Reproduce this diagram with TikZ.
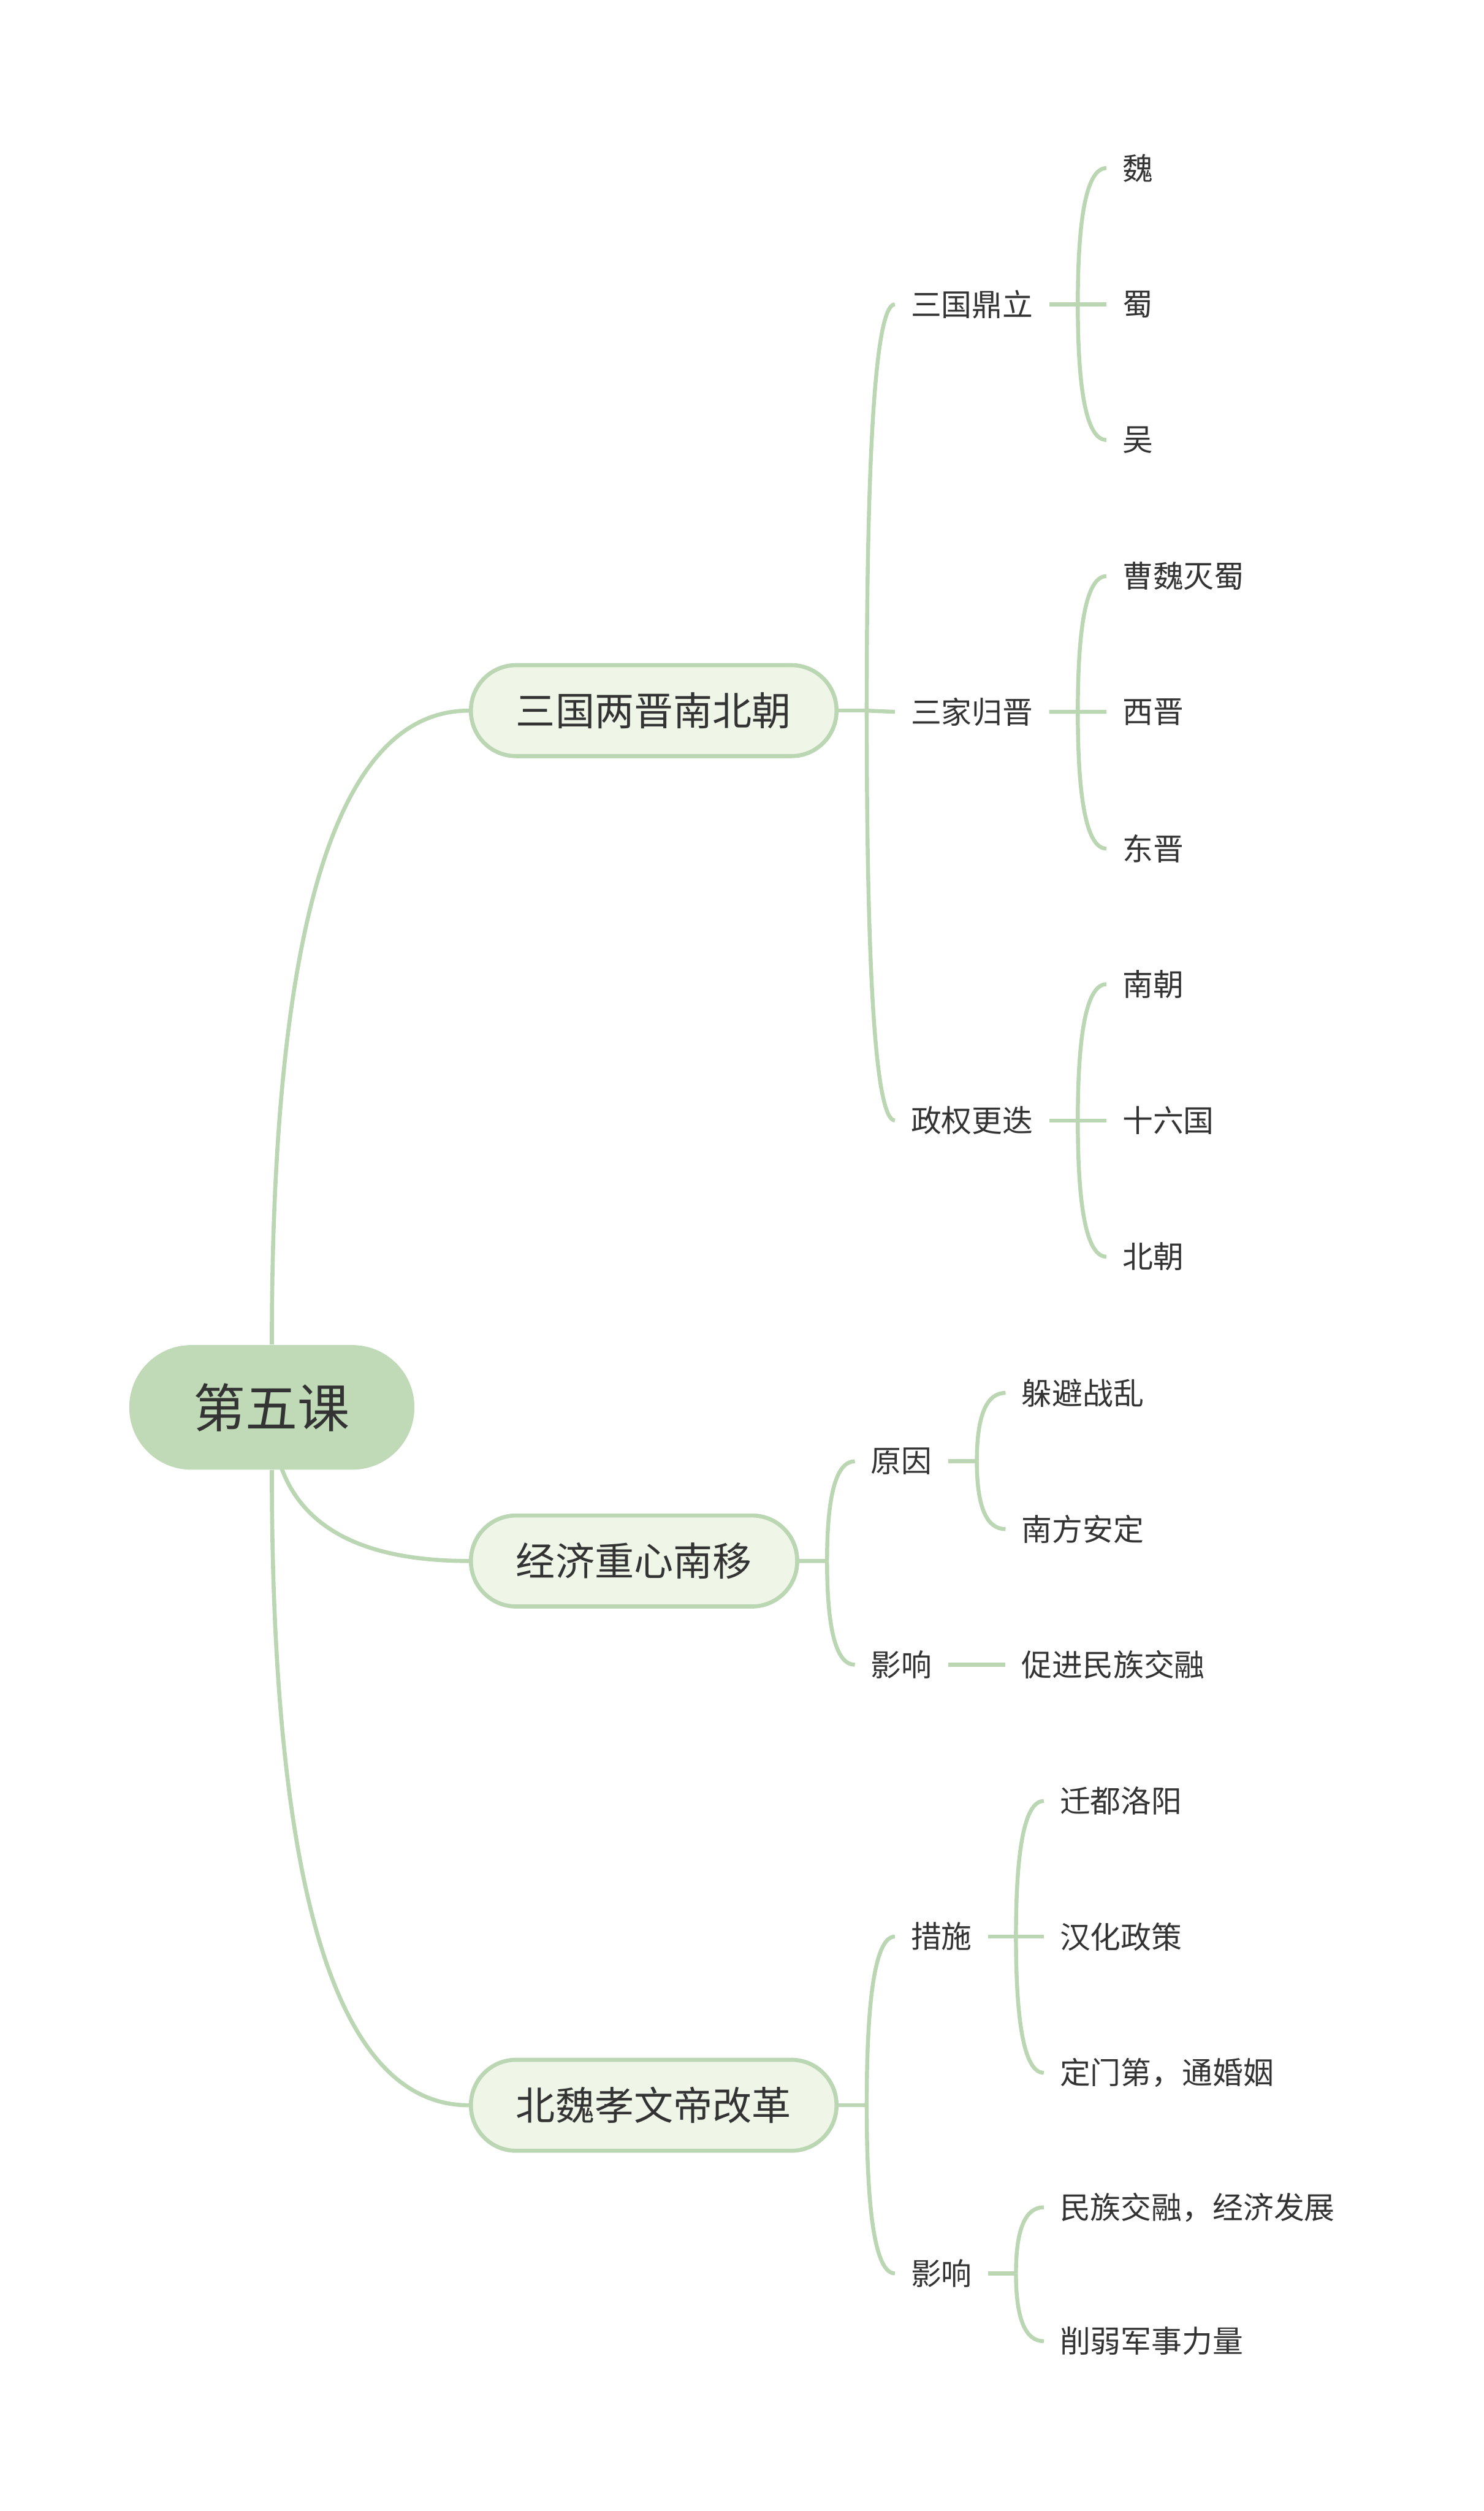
\documentclass[tikz,border=0pt]{standalone}
\usepackage{fontspec}
\setmainfont{Noto Sans CJK SC}
\usepackage{xcolor}
\usetikzlibrary{calc,backgrounds}
\definecolor{leafgreen}{HTML}{BAD6B2}
\definecolor{rootfill}{HTML}{C0DAB8}
\definecolor{boxfill}{HTML}{EFF6E8}
\definecolor{inkgray}{HTML}{333333}
\newcommand{\curvelink}[3][sublink]{\draw[#1] (#2) .. controls ($(#2)!0.667!(#2 |- #3)$) and ($(#3)!0.667!(#2 |- #3)$) .. (#3);}

\begin{document}
\begin{tikzpicture}[every node/.style={text=inkgray,font=\fontsize{15}{18}\selectfont},rootbox/.style={fill=rootfill,rounded corners=1.07cm,minimum height=2.15cm,inner xsep=1.11cm,font=\fontsize{25.6}{30}\selectfont},topicbox/.style={draw=leafgreen,fill=boxfill,line width=0.07cm,rounded corners=0.78cm,minimum height=1.57cm,inner xsep=0.78cm,anchor=west,font=\fontsize{19.3}{23}\selectfont},itemtext/.style={anchor=west,inner xsep=0.27cm,inner ysep=0.1cm},mainlink/.style={draw=leafgreen,line width=0.07cm},sublink/.style={draw=leafgreen,line width=0.068cm}]
\useasboundingbox (0,0) rectangle (25.6,-43.32);
\node[rootbox] (root) at (4.69,-24.28) {第五课};
\node[topicbox] (t1) at (8.09,-12.26) {三国两晋南北朝};
\node[topicbox] (t2) at (8.09,-26.93) {经济重心南移};
\node[topicbox] (t3) at (8.09,-36.32) {北魏孝文帝改革};
\begin{scope}[on background layer]
\curvelink[mainlink]{root.north}{t1.west}
\curvelink[mainlink]{root.center}{t2.west}
\curvelink[mainlink]{root.south}{t3.west}
\end{scope}
\node[itemtext] (s1) at (15.44,-5.25) {三国鼎立};
\node[itemtext] (s2) at (15.44,-12.28) {三家归晋};
\node[itemtext] (s3) at (15.44,-19.33) {政权更迭};
\coordinate (j1) at ($(t1.east)!0.5!(s1.west |- t1.east)$);
\draw[sublink] (t1.east) -- (j1);
\curvelink{j1}{s1.west}
\draw[sublink] (j1) -- (s2.west);
\curvelink{j1}{s3.west}
\node[itemtext] (s1a) at (19.09,-2.90) {魏};
\node[itemtext] (s1b) at (19.09,-5.25) {蜀};
\node[itemtext] (s1c) at (19.09,-7.59) {吴};
\coordinate (j11) at ($(s1.east)!0.5!(s1a.west |- s1.east)$);
\draw[sublink] (s1.east) -- (j11);
\curvelink{j11}{s1a.west}
\draw[sublink] (j11) -- (s1b.west);
\curvelink{j11}{s1c.west}
\node[itemtext] (s2a) at (19.09,-9.94) {曹魏灭蜀};
\node[itemtext] (s2b) at (19.09,-12.28) {西晋};
\node[itemtext] (s2c) at (19.09,-14.64) {东晋};
\coordinate (j12) at ($(s2.east)!0.5!(s2a.west |- s2.east)$);
\draw[sublink] (s2.east) -- (j12);
\curvelink{j12}{s2a.west}
\draw[sublink] (j12) -- (s2b.west);
\curvelink{j12}{s2c.west}
\node[itemtext] (s3a) at (19.09,-16.98) {南朝};
\node[itemtext] (s3b) at (19.09,-19.33) {十六国};
\node[itemtext] (s3c) at (19.09,-21.68) {北朝};
\coordinate (j13) at ($(s3.east)!0.5!(s3a.west |- s3.east)$);
\draw[sublink] (s3.east) -- (j13);
\curvelink{j13}{s3a.west}
\draw[sublink] (j13) -- (s3b.west);
\curvelink{j13}{s3c.west}
\node[itemtext] (r1) at (14.75,-25.21) {原因};
\node[itemtext] (r2) at (14.75,-28.72) {影响};
\coordinate (j2) at ($(t2.east)!0.5!(r1.west |- t2.east)$);
\draw[sublink] (t2.east) -- (j2);
\curvelink{j2}{r1.west}
\curvelink{j2}{r2.west}
\node[itemtext] (r1a) at (17.35,-24.03) {躲避战乱};
\node[itemtext] (r1b) at (17.35,-26.38) {南方安定};
\coordinate (j21) at ($(r1.east)!0.5!(r1a.west |- r1.east)$);
\draw[sublink] (r1.east) -- (j21);
\curvelink{j21}{r1a.west}
\curvelink{j21}{r1b.west}
\node[itemtext] (r2a) at (17.35,-28.72) {促进民族交融};
\draw[sublink] (r2.east) -- (r2a.west);
\node[itemtext] (m1) at (15.44,-33.41) {措施};
\node[itemtext] (m2) at (15.44,-39.22) {影响};
\coordinate (j3) at ($(t3.east)!0.5!(m1.west |- t3.east)$);
\draw[sublink] (t3.east) -- (j3);
\curvelink{j3}{m1.west}
\curvelink{j3}{m2.west}
\node[itemtext] (m1a) at (18.01,-31.07) {迁都洛阳};
\node[itemtext] (m1b) at (18.01,-33.41) {汉化政策};
\node[itemtext] (m1c) at (18.01,-35.76) {定门第，通婚姻};
\coordinate (j31) at ($(m1.east)!0.5!(m1a.west |- m1.east)$);
\draw[sublink] (m1.east) -- (j31);
\curvelink{j31}{m1a.west}
\draw[sublink] (j31) -- (m1b.west);
\curvelink{j31}{m1c.west}
\node[itemtext] (m2a) at (18.01,-38.08) {民族交融，经济发展};
\node[itemtext] (m2b) at (18.01,-40.39) {削弱军事力量};
\coordinate (j32) at ($(m2.east)!0.5!(m2a.west |- m2.east)$);
\draw[sublink] (m2.east) -- (j32);
\curvelink{j32}{m2a.west}
\curvelink{j32}{m2b.west}
\end{tikzpicture}
\end{document}
